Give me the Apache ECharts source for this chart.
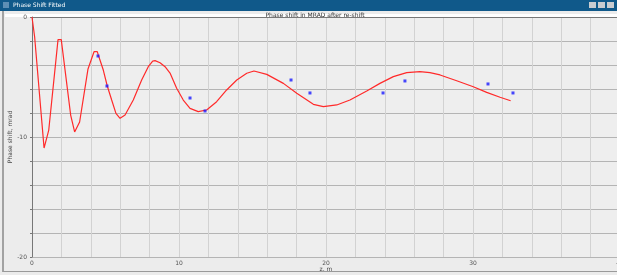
<!DOCTYPE html>
<html>
<head>
<meta charset="utf-8">
<script src="https://cdn.jsdelivr.net/npm/echarts@6/dist/echarts.min.js"></script>
<style>
  html, body { margin: 0; padding: 0; background: #ececec; }
  #chart { width: 617px; height: 275px; }
</style>
</head>
<body>
<div id="chart"></div>
<script>
// fitted phase shift curve, [z, mrad]
var fitCurve = [
  [0, 0], [0.18, -1.67], [0.82, -10.92], [1.14, -9.42], [1.77, -1.89], [1.99, -1.89],
  [2.63, -8.17], [2.9, -9.58], [3.24, -8.75], [3.81, -4.33], [4.22, -2.89], [4.44, -2.89],
  [4.51, -3.17], [4.85, -4.42], [5.12, -5.75], [5.42, -6.92], [5.71, -8.03], [5.99, -8.44],
  [6.33, -8.17], [6.89, -6.92], [7.46, -5.25], [7.91, -4.14], [8.21, -3.67], [8.37, -3.64],
  [8.71, -3.81], [9.05, -4.14], [9.39, -4.67], [9.84, -5.94], [10.29, -6.92], [10.75, -7.61],
  [11.31, -7.89], [11.88, -7.75], [12.56, -7.06], [13.24, -6.08], [13.93, -5.25], [14.61, -4.69],
  [15.1, -4.5], [15.97, -4.78], [17.1, -5.53], [18.01, -6.36], [19.14, -7.28], [19.82, -7.47],
  [20.73, -7.33], [21.63, -6.92], [22.77, -6.17], [23.67, -5.53], [24.58, -4.97], [25.49, -4.64],
  [26.39, -4.56], [27.07, -4.64], [27.76, -4.83], [28.89, -5.31], [30.02, -5.81], [30.93, -6.28],
  [31.84, -6.69], [32.56, -6.98]
];

// measured points
var measured = [
  [4.49, -3.25], [5.1, -5.75], [10.75, -6.75], [11.77, -7.83], [17.62, -5.25],
  [18.91, -6.33], [23.88, -6.33], [25.37, -5.33], [31.02, -5.58], [32.72, -6.33]
];

var labelFont = 'DejaVu Sans';

var chart = echarts.init(document.getElementById('chart'), null, { renderer: 'canvas' });

chart.setOption({
  backgroundColor: '#ececec',
  animation: false,
  title: {
    text: 'Phase shift in MRAD after re-shift',
    left: 310,
    top: 7,
    textAlign: 'center',
    textStyle: { fontSize: 6, fontWeight: 'normal', color: '#333', fontFamily: labelFont }
  },
  graphic: [
    { type: 'rect', shape: { x: 0, y: 0, width: 617, height: 11 }, style: { fill: '#10598a' }, z: 10 },
    { type: 'rect', shape: { x: 3, y: 2, width: 6, height: 6 }, style: { fill: '#5d8fb5' }, z: 11 },
    { type: 'text', x: 13, y: 2.5, style: { text: 'Phase Shift Fitted', fill: '#ffffff', fontSize: 6, fontFamily: labelFont }, z: 11 },
    { type: 'rect', shape: { x: 589, y: 2, width: 7, height: 6 }, style: { fill: '#c9ccd0' }, z: 11 },
    { type: 'rect', shape: { x: 598, y: 2, width: 7, height: 6 }, style: { fill: '#c9ccd0' }, z: 11 },
    { type: 'rect', shape: { x: 607, y: 2, width: 7, height: 6 }, style: { fill: '#c9ccd0' }, z: 11 },
    { type: 'rect', shape: { x: 5, y: 14, width: 620, height: 3 }, style: { fill: '#ffffff' }, z: -1 },
    { type: 'line', shape: { x1: 3, y1: 11, x2: 3, y2: 272 }, style: { stroke: '#8a8a8a', lineWidth: 1.5 }, z: 11 },
    { type: 'line', shape: { x1: 3, y1: 271.5, x2: 617, y2: 271.5 }, style: { stroke: '#9a9a9a', lineWidth: 1 }, z: 11 }
  ],
  grid: {
    left: 32, top: 17, right: -3, bottom: 18,
    containLabel: false, outerBoundsMode: 'none',
    show: true, backgroundColor: '#eeeeee', borderWidth: 0
  },
  xAxis: {
    type: 'value',
    min: 0,
    max: 40,
    interval: 2,
    name: 'z, m',
    nameLocation: 'middle',
    nameGap: 9,
    nameMoveOverlap: false,
    nameTextStyle: { fontSize: 6, color: '#444', fontFamily: labelFont },
    axisLine: { show: true, lineStyle: { color: '#777', width: 1 } },
    axisTick: { show: false },
    axisLabel: {
      fontSize: 6, color: '#555', fontFamily: labelFont, margin: 3,
      formatter: function (v) { return v % 10 === 0 ? String(v) : ''; }
    },
    splitLine: { show: true, lineStyle: { color: '#d2d2d2', width: 1 } }
  },
  yAxis: {
    type: 'value',
    min: -20,
    max: 0,
    interval: 2,
    name: 'Phase shift, mrad',
    nameLocation: 'middle',
    nameGap: 19,
    nameRotate: 90,
    nameMoveOverlap: false,
    nameTextStyle: { fontSize: 6, color: '#444', fontFamily: labelFont },
    axisLine: { show: true, lineStyle: { color: '#777', width: 1 } },
    axisTick: { show: true, length: 2, lineStyle: { color: '#777' } },
    axisLabel: {
      fontSize: 6, color: '#555', fontFamily: labelFont, margin: 5,
      formatter: function (v) { return v % 10 === 0 ? String(v) : ''; }
    },
    splitLine: { show: true, lineStyle: { color: '#b4b4b4', width: 1 } }
  },
  series: [
    {
      name: 'fit',
      type: 'line',
      data: fitCurve,
      showSymbol: false,
      smooth: false,
      lineStyle: { color: '#ff2a2a', width: 1.2 },
      z: 3
    },
    {
      name: 'measured',
      type: 'scatter',
      data: measured,
      symbol: 'rect',
      symbolSize: 3,
      itemStyle: { color: '#1a1aff' },
      z: 4
    }
  ]
});
</script>
</body>
</html>
